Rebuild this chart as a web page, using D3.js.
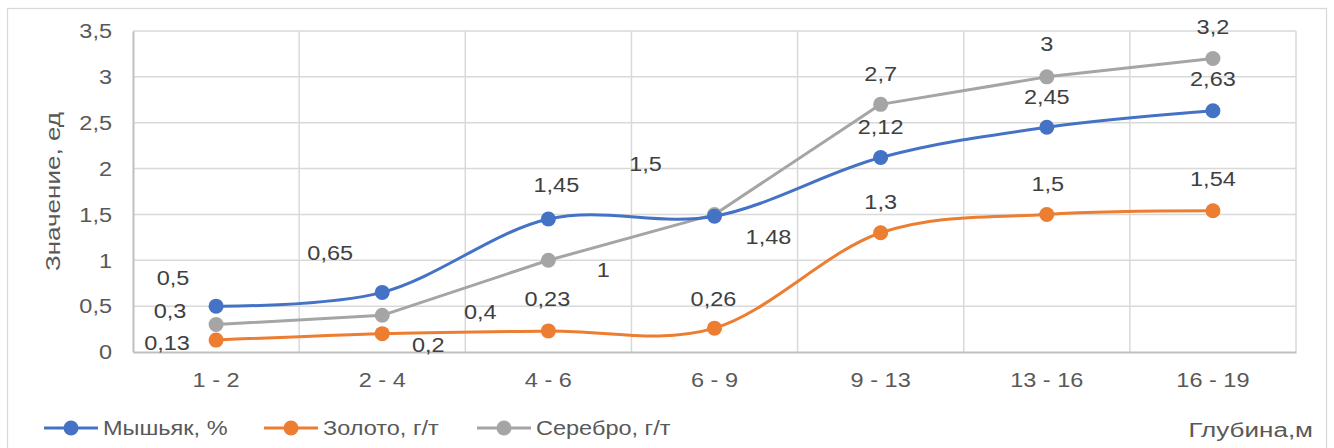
<!DOCTYPE html>
<html>
<head>
<meta charset="utf-8">
<script src="https://cdn.jsdelivr.net/npm/d3@7"></script>
<style>
  html, body { margin: 0; padding: 0; background: #fff; }
  svg { display: block; font-family: "Liberation Sans", Arial, sans-serif; }
  .y-axis .tick text { transform-box: fill-box; transform-origin: right center; transform: scaleX(1.12); }
  .x-axis .tick text { transform-box: fill-box; transform-origin: center center; transform: scaleX(1.12); }
</style>
</head>
<body>
<svg id="chart" width="1334" height="448"></svg>
<script>
// Depth intervals (m)
const categories = ["1 - 2", "2 - 4", "4 - 6", "6 - 9", "9 - 13", "13 - 16", "16 - 19"];

// Measured values per interval
const arsenic = [0.5, 0.65, 1.45, 1.48, 2.12, 2.45, 2.63];   // Мышьяк, %
const gold    = [0.13, 0.2, 0.23, 0.26, 1.3, 1.5, 1.54];     // Золото, г/т
const silver  = [0.3, 0.4, 1, 1.5, 2.7, 3, 3.2];             // Серебро, г/т

const yTicks = [0, 0.5, 1, 1.5, 2, 2.5, 3, 3.5];

const seriesNames = ["Мышьяк, %", "Золото, г/т", "Серебро, г/т"];

// Hand-placed data label nudges (px, relative to the point)
const labelNudge = {
  arsenic: [[-43, -29], [-52, -40], [8, -34], [54, 20], [0, -31], [0, -31], [0, -32]],
  gold:    [[-49, 3], [46, 11], [-1, -32], [-1, -30], [0, -31], [1, -31], [0, -32]],
  silver:  [[-46, -14], [98, -4], [55, 9], [-69, -51], [0, -31], [0, -33], [0, -32]]
};

const series = [
  { key: "arsenic", name: seriesNames[0], values: arsenic, color: "#4472C4", smooth: true },
  { key: "gold",    name: seriesNames[1], values: gold,    color: "#ED7D31", smooth: true },
  { key: "silver",  name: seriesNames[2], values: silver,  color: "#A5A5A5", smooth: false }
];

const FONT = 21;          // text size
const WIDE = 1.12;        // horizontal stretch of regular text
const WIDE_TITLE = 1.24;  // horizontal stretch of axis titles

const svg = d3.select("#chart");
const plot = { left: 133, right: 1296, top: 31, bottom: 352 };

const x = d3.scaleBand().domain(categories).range([plot.left, plot.right]).padding(0);
const y = d3.scaleLinear().domain([0, 3.5]).range([plot.bottom, plot.top]);
const cx = c => x(c) + x.bandwidth() / 2;

const fmt = v => String(v).replace(".", ",");

// Chart frame
svg.append("rect")
  .attr("x", 7.5).attr("y", 8.5).attr("width", 1319).attr("height", 460)
  .attr("fill", "#fff").attr("stroke", "#d9d9d9").attr("stroke-width", 1.3);

// Horizontal gridlines
svg.append("g")
  .selectAll("line")
  .data(yTicks.filter(t => t > 0))
  .join("line")
  .attr("x1", plot.left).attr("x2", plot.right)
  .attr("y1", d => y(d)).attr("y2", d => y(d))
  .attr("stroke", "#d9d9d9").attr("stroke-width", 1.5);

// Vertical gridlines at category boundaries
const bounds = categories.map(c => x(c)).concat([plot.right]);
svg.append("g")
  .selectAll("line")
  .data(bounds.slice(1))
  .join("line")
  .attr("x1", d => d).attr("x2", d => d)
  .attr("y1", plot.top).attr("y2", plot.bottom)
  .attr("stroke", "#d9d9d9").attr("stroke-width", 1.5);

// Axes
const yAxis = d3.axisLeft(y).tickValues(yTicks).tickFormat(fmt).tickSize(0).tickPadding(21);
const gy = svg.append("g").attr("class", "y-axis").attr("transform", `translate(${plot.left},0)`).call(yAxis);
gy.select(".domain").attr("stroke", "#bfbfbf").attr("stroke-width", 2);
gy.selectAll("text").attr("fill", "#595959").attr("font-size", FONT).attr("font-family", "Liberation Sans, Arial, sans-serif");

const xAxis = d3.axisBottom(x).tickSize(0).tickPadding(20);
const gx = svg.append("g").attr("class", "x-axis").attr("transform", `translate(0,${plot.bottom})`).call(xAxis);
gx.select(".domain").attr("stroke", "#bfbfbf").attr("stroke-width", 2);
gx.selectAll("text").attr("fill", "#595959").attr("font-size", FONT).attr("font-family", "Liberation Sans, Arial, sans-serif");

// Text helper: places a label at (px, py) and stretches it horizontally
function label(parent, px, py, str, opts) {
  const o = Object.assign({ anchor: "middle", fill: "#404040", stretch: WIDE, rotate: 0, dy: "0.35em" }, opts || {});
  return parent.append("text")
    .attr("transform", `translate(${px},${py}) rotate(${o.rotate}) scale(${o.stretch},1)`)
    .attr("dy", o.dy)
    .attr("text-anchor", o.anchor)
    .attr("fill", o.fill)
    .attr("font-size", FONT)
    .text(str);
}

// Axis titles
label(svg, 60, (plot.top + plot.bottom) / 2, "Значение, ед",
  { rotate: -90, fill: "#595959", stretch: WIDE_TITLE, dy: 0 });
label(svg, 1313, 437, "Глубина,м",
  { anchor: "end", fill: "#595959", stretch: WIDE_TITLE, dy: 0 });

// Lines and markers
const lineSmooth = d3.line().x((d, i) => cx(categories[i])).y(d => y(d)).curve(d3.curveCatmullRom.alpha(0));
const lineStraight = d3.line().x((d, i) => cx(categories[i])).y(d => y(d));

// Draw order: silver under arsenic and gold
const drawOrder = [series[2], series[0], series[1]];
drawOrder.forEach(s => {
  svg.append("path")
    .datum(s.values)
    .attr("d", s.smooth ? lineSmooth : lineStraight)
    .attr("fill", "none")
    .attr("stroke", s.color)
    .attr("stroke-width", 3)
    .attr("stroke-linejoin", "round")
    .attr("stroke-linecap", "round");
  svg.append("g")
    .selectAll("circle")
    .data(s.values)
    .join("circle")
    .attr("cx", (d, i) => cx(categories[i]))
    .attr("cy", d => y(d))
    .attr("r", 7.5)
    .attr("fill", s.color);
});

// Data labels
series.forEach(s => {
  const g = svg.append("g");
  s.values.forEach((v, i) => {
    label(g, cx(categories[i]) + labelNudge[s.key][i][0], y(v) + labelNudge[s.key][i][1], fmt(v));
  });
});

// Legend
const legendX = [44, 264, 477];
const lg = svg.append("g");
series.forEach((s, i) => {
  const g = lg.append("g").attr("transform", `translate(${legendX[i]},428)`);
  g.append("line").attr("x1", 0).attr("x2", 54).attr("y1", 0).attr("y2", 0)
    .attr("stroke", s.color).attr("stroke-width", 3);
  g.append("circle").attr("cx", 27).attr("cy", 0).attr("r", 7.5).attr("fill", s.color);
  label(g, 59, 0, s.name, { anchor: "start", fill: "#595959" });
});
</script>
</body>
</html>
